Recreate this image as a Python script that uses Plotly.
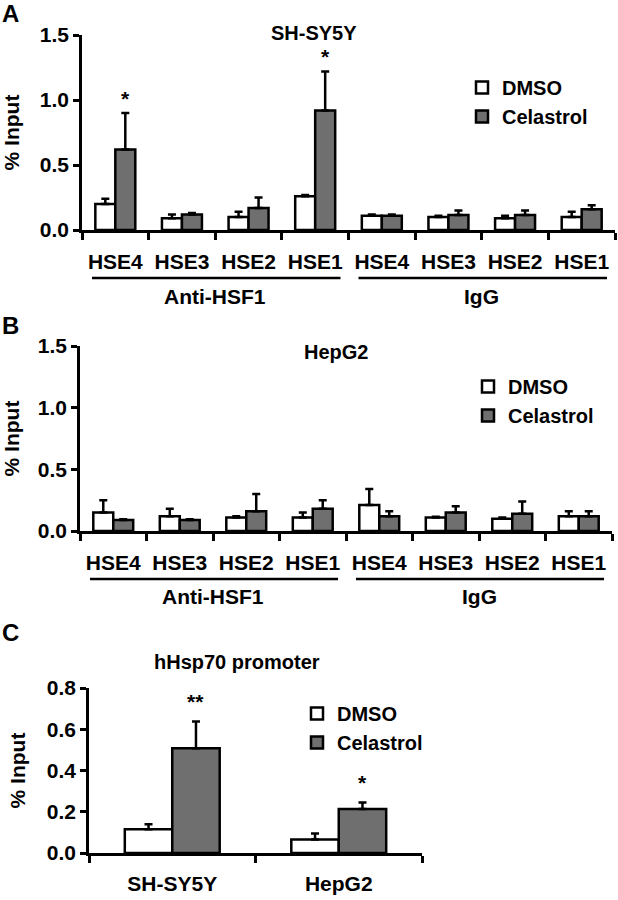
import plotly.graph_objects as go

# ---------------- data ----------------
hse_labels = ["HSE4", "HSE3", "HSE2", "HSE1"]
groups = ["Anti-HSF1", "IgG"]
series_names = ["DMSO", "Celastrol"]

# Panel A: SH-SY5Y
a_dmso = [0.20, 0.09, 0.10, 0.26, 0.11, 0.10, 0.09, 0.10]
a_dmso_err = [0.04, 0.03, 0.04, 0.01, 0.01, 0.01, 0.02, 0.04]
a_cel = [0.62, 0.12, 0.17, 0.92, 0.11, 0.115, 0.115, 0.16]
a_cel_err = [0.28, 0.01, 0.08, 0.30, 0.01, 0.035, 0.035, 0.03]
a_sig = ["*", "", "", "*", "", "", "", ""]

# Panel B: HepG2
b_dmso = [0.15, 0.12, 0.11, 0.11, 0.21, 0.11, 0.10, 0.12]
b_dmso_err = [0.10, 0.06, 0.01, 0.04, 0.13, 0.005, 0.01, 0.04]
b_cel = [0.09, 0.09, 0.16, 0.18, 0.12, 0.15, 0.14, 0.12]
b_cel_err = [0.005, 0.005, 0.14, 0.07, 0.04, 0.05, 0.10, 0.04]

# Panel C: hHsp70 promoter
c_lines = ["SH-SY5Y", "HepG2"]
c_dmso = [0.115, 0.066]
c_dmso_err = [0.025, 0.029]
c_cel = [0.508, 0.213]
c_cel_err = [0.13, 0.032]
c_sig = ["**", "*"]

# ---------------- layout helpers ----------------
W, H = 618, 900
FONT = "Liberation Sans, Arial, sans-serif"
GRAY = "#6f6f6f"


def px_x(p):
    return p / W


def px_y(p):
    return 1 - p / H


def bfont(size):
    return dict(family=FONT, size=size, color="black", weight="bold")


fig = go.Figure()

tick_labels = hse_labels * len(groups)
xpos = list(range(len(tick_labels)))
BW = 0.3


def add_pair(x, dmso, dmso_err, cel, cel_err, xa, ya, legend, bw):
    n = len(dmso)
    for name, vals, errs, color, off in [
        (series_names[0], dmso, dmso_err, "white", -bw),
        (series_names[1], cel, cel_err, GRAY, 0.0),
    ]:
        fig.add_trace(go.Bar(
            x=x, y=vals, name=name, width=bw, offset=off,
            marker=dict(color=color, line=dict(color="black", width=2.5)),
            error_y=dict(type="data", symmetric=False, array=errs,
                         arrayminus=[0] * n, color="black",
                         thickness=2.5, width=4),
            xaxis=xa, yaxis=ya, legend=legend, legendgroup=legend + name,
            showlegend=True,
        ))


add_pair(xpos, a_dmso, a_dmso_err, a_cel, a_cel_err, "x", "y", "legend", BW)
add_pair(xpos, b_dmso, b_dmso_err, b_cel, b_cel_err, "x2", "y2", "legend2", BW)
add_pair(c_lines, c_dmso, c_dmso_err, c_cel, c_cel_err, "x3", "y3", "legend3", 0.285)

axis_common = dict(showline=True, linewidth=2.5, linecolor="black",
                   showgrid=False, zeroline=False, automargin=False)

xab = dict(axis_common, range=[-0.5, len(xpos) - 0.5], tickmode="array",
           tickvals=xpos, ticktext=tick_labels, ticks="",
           ticklabelstandoff=11, tickfont=bfont(21),
           ticklabeloverflow="allow",
           minor=dict(tickmode="array",
                      tickvals=[i - 0.5 for i in range(len(xpos) + 1)],
                      ticks="outside", ticklen=7, tickwidth=2.5,
                      tickcolor="black"))

yab = dict(axis_common, range=[0, 1.5], dtick=0.5, tick0=0, tickformat=".1f",
           ticks="outside", ticklen=6, tickwidth=2.5, tickcolor="black",
           tickfont=bfont(21),
           title=dict(text="% Input", font=bfont(21), standoff=16))

fig.update_layout(
    width=W, height=H, autosize=False,
    margin=dict(l=0, r=0, t=0, b=0),
    paper_bgcolor="white", plot_bgcolor="white",
    font=bfont(20),
    barmode="group",
    xaxis=dict(xab, domain=[px_x(82), px_x(615)], anchor="y"),
    yaxis=dict(yab, domain=[px_y(230), px_y(35)], anchor="x"),
    xaxis2=dict(xab, domain=[px_x(80), px_x(612)], anchor="y2"),
    yaxis2=dict(yab, domain=[px_y(531), px_y(346)], anchor="x2"),
    xaxis3=dict(axis_common, domain=[px_x(89), px_x(422)], anchor="y3",
                type="category", tickson="boundaries", ticks="outside",
                ticklen=7, tickwidth=2.5, tickcolor="black",
                ticklabelstandoff=10, tickfont=bfont(21)),
    yaxis3=dict(axis_common, domain=[px_y(853), px_y(688)], anchor="x3",
                range=[0, 0.8], dtick=0.2, tick0=0, tickformat=".1f",
                ticks="outside", ticklen=6, tickwidth=2.5, tickcolor="black",
                tickfont=bfont(21),
                title=dict(text="% Input", font=bfont(21), standoff=16)),
    showlegend=True,
)

leg_common = dict(font=bfont(20), bgcolor="rgba(0,0,0,0)", xanchor="left",
                  yanchor="top", tracegroupgap=8, itemwidth=30,
                  traceorder="normal")
fig.update_layout(
    legend=dict(leg_common, x=px_x(462), y=px_y(68)),
    legend2=dict(leg_common, x=px_x(468), y=px_y(367)),
    legend3=dict(leg_common, x=px_x(297), y=px_y(694)),
)

annotations = []
shapes = []

# panel letters
for letter, (lx, ly) in zip(["A", "B", "C"], [(10, 14), (10, 325), (10, 632)]):
    annotations.append(dict(text=letter, x=px_x(lx), y=px_y(ly), xref="paper",
                            yref="paper", showarrow=False, font=bfont(24),
                            xanchor="center", yanchor="middle"))

# panel titles
for text, (tx, ty) in zip(["SH-SY5Y", "HepG2", "hHsp70 promoter"],
                          [(314, 33), (336, 352), (237, 662)]):
    annotations.append(dict(text=text, x=px_x(tx), y=px_y(ty), xref="paper",
                            yref="paper", showarrow=False, font=bfont(20),
                            xanchor="center", yanchor="middle"))

# group brackets + labels for panels A and B
for xa, line_y, lab_y in [("x", 278, 296), ("x2", 579, 596)]:
    for g, gname in enumerate(groups):
        start = g * len(hse_labels)
        shapes.append(dict(type="line", xref=xa, yref="paper",
                           x0=start - 0.35, x1=start + len(hse_labels) - 0.62,
                           y0=px_y(line_y), y1=px_y(line_y),
                           line=dict(color="black", width=2.5)))
        annotations.append(dict(text=gname, xref=xa, yref="paper",
                                x=start + (len(hse_labels) - 1) / 2,
                                y=px_y(lab_y), showarrow=False,
                                font=bfont(21), xanchor="center",
                                yanchor="middle"))

# significance stars
for i, s in enumerate(a_sig):
    if s:
        annotations.append(dict(text=s, xref="x", yref="y", x=xpos[i] + BW / 2,
                                y=a_cel[i] + a_cel_err[i], showarrow=False,
                                font=bfont(21), xanchor="center",
                                yanchor="bottom", yshift=1))
for i, s in enumerate(c_sig):
    annotations.append(dict(text=s, xref="x3", yref="y3", x=i + 0.285 / 2,
                            y=c_cel[i] + c_cel_err[i], showarrow=False,
                            font=bfont(21), xanchor="center",
                            yanchor="bottom", yshift=6))

fig.update_layout(annotations=annotations, shapes=shapes)

fig.write_html("out.html",
               config={"displayModeBar": False},
               post_script="document.body.style.margin='0px';")
